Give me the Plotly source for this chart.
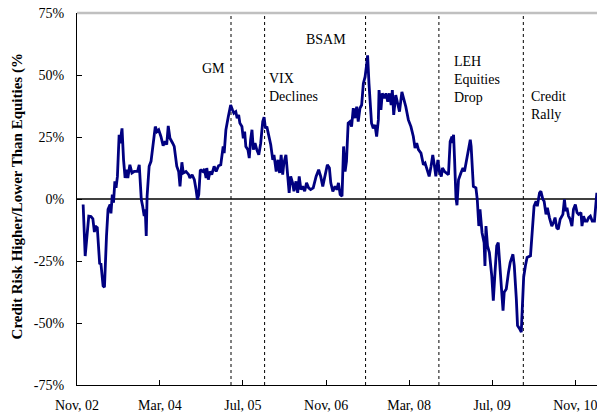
import plotly.graph_objects as go

dates = [
    "2002-12-07", "2002-12-19", "2003-01-09", "2003-01-22", "2003-02-02", "2003-02-11", "2003-02-16", "2003-02-28",
    "2003-03-14", "2003-03-21", "2003-04-03", "2003-04-11", "2003-04-23", "2003-05-02", "2003-05-14", "2003-05-19",
    "2003-05-27", "2003-06-03", "2003-06-11", "2003-06-18", "2003-06-26", "2003-07-06", "2003-07-11", "2003-07-23",
    "2003-08-01", "2003-08-10", "2003-08-18", "2003-08-26", "2003-09-07", "2003-09-19", "2003-10-02", "2003-10-22",
    "2003-11-01", "2003-11-13", "2003-11-21", "2003-11-30", "2003-12-06", "2003-12-12", "2003-12-17", "2003-12-29",
    "2004-01-09", "2004-01-22", "2004-02-03", "2004-02-13", "2004-02-23", "2004-03-07", "2004-03-20", "2004-04-01",
    "2004-04-10", "2004-04-19", "2004-04-29", "2004-05-15", "2004-05-24", "2004-06-08", "2004-06-19", "2004-06-27",
    "2004-07-08", "2004-07-16", "2004-08-01", "2004-08-17", "2004-08-24", "2004-09-06", "2004-09-19", "2004-09-29",
    "2004-10-07", "2004-10-15", "2004-10-24", "2004-11-08", "2004-11-17", "2004-11-27",
    "2004-12-01", "2004-12-10", "2004-12-20", "2004-12-30", "2005-01-13", "2005-01-25", "2005-02-08", "2005-02-21",
    "2005-02-28", "2005-03-07", "2005-03-13", "2005-03-23", "2005-04-06", "2005-04-20", "2005-05-01", "2005-05-09",
    "2005-05-20", "2005-05-28", "2005-06-06", "2005-06-13", "2005-06-25", "2005-07-03", "2005-07-11", "2005-07-18",
    "2005-07-30", "2005-08-07", "2005-08-15", "2005-08-23", "2005-08-31", "2005-09-10", "2005-09-20", "2005-10-02",
    "2005-10-13", "2005-10-25", "2005-11-02", "2005-11-10", "2005-11-18", "2005-11-29", "2005-12-11", "2005-12-23",
    "2005-12-30", "2006-01-12", "2006-01-22", "2006-02-01", "2006-02-10", "2006-02-19", "2006-02-26", "2006-03-10",
    "2006-03-17", "2006-03-29", "2006-04-07", "2006-04-18", "2006-04-26", "2006-05-08", "2006-05-18", "2006-05-27",
    "2006-06-06", "2006-06-16", "2006-06-28", "2006-07-09", "2006-07-21", "2006-08-02", "2006-08-17", "2006-09-03",
    "2006-09-18", "2006-09-30", "2006-10-12", "2006-10-23", "2006-11-08", "2006-11-20", "2006-11-28", "2006-12-10",
    "2006-12-23", "2007-01-03", "2007-01-12", "2007-01-22", "2007-02-02", "2007-02-11", "2007-02-20", "2007-02-28",
    "2007-03-10", "2007-03-20", "2007-03-30", "2007-04-09", "2007-04-19", "2007-04-29", "2007-05-08", "2007-05-18",
    "2007-05-28", "2007-06-07", "2007-06-17", "2007-06-27", "2007-07-02", "2007-07-10", "2007-07-17", "2007-07-25",
    "2007-08-04", "2007-08-14", "2007-08-24", "2007-09-03", "2007-09-07", "2007-09-18", "2007-09-26", "2007-10-08",
    "2007-10-18", "2007-10-28", "2007-11-07", "2007-11-17", "2007-11-24", "2007-12-02", "2007-12-14", "2007-12-26",
    "2008-01-05", "2008-01-19", "2008-01-30", "2008-02-11", "2008-02-26", "2008-03-12", "2008-03-26", "2008-04-05",
    "2008-04-15", "2008-04-25", "2008-05-10", "2008-05-24", "2008-06-03", "2008-06-13", "2008-06-27", "2008-07-08",
    "2008-07-18", "2008-07-27", "2008-08-05", "2008-08-17", "2008-08-26", "2008-09-06", "2008-09-13", "2008-09-25",
    "2008-10-09", "2008-10-18", "2008-10-28", "2008-11-08", "2008-11-11", "2008-11-17", "2008-11-23", "2008-12-01",
    "2008-12-07", "2008-12-16", "2008-12-30", "2009-01-11", "2009-01-20", "2009-02-13", "2009-02-23", "2009-02-28",
    "2009-03-13", "2009-03-28", "2009-04-05", "2009-04-14", "2009-04-21", "2009-05-03", "2009-05-15", "2009-05-20",
    "2009-05-26", "2009-06-04", "2009-06-15", "2009-06-29", "2009-07-08", "2009-07-18", "2009-07-28", "2009-08-06",
    "2009-08-13", "2009-08-23", "2009-09-03", "2009-09-10", "2009-09-22", "2009-10-05", "2009-10-15", "2009-10-31",
    "2009-11-08", "2009-11-20", "2009-11-27", "2009-12-09", "2009-12-19", "2009-12-24", "2010-01-02", "2010-01-12",
    "2010-01-22", "2010-02-11", "2010-02-22", "2010-03-04", "2010-03-16", "2010-03-23", "2010-04-05", "2010-04-13",
    "2010-04-25", "2010-05-02", "2010-05-13", "2010-05-21", "2010-06-02", "2010-06-16", "2010-06-26", "2010-07-05",
    "2010-07-15", "2010-07-24", "2010-08-04", "2010-08-20", "2010-08-29", "2010-09-05", "2010-09-13", "2010-09-22",
    "2010-10-02", "2010-10-12", "2010-10-21", "2010-11-01", "2010-11-11", "2010-11-20", "2010-12-04", "2010-12-10",
    "2010-12-19", "2010-12-29", "2011-01-09", "2011-01-18", "2011-01-28", "2011-02-08", "2011-02-21", "2011-02-28",
    "2011-03-07",
]

values = [
    -2.2, -23.0, -6.9, -7.1, -8.0, -13.3, -10.9, -11.6,
    -26.3, -25.9, -35.0, -35.6, -14.9, -4.2, -2.2, -5.8,
    1.8, -1.5, 7.1, 4.5, 9.1, 25.9, 22.5, 28.5,
    15.8, 8.5, 11.8, 8.5, 13.8, 10.5, 11.1, 11.1,
    13.8, -0.2, -2.9, -6.9, -4.2, -14.9, 1.1, 13.2,
    15.2, 23.9, 29.2, 27.2, 27.9, 25.2, 21.5, 23.2,
    21.9, 29.5, 24.5, 22.5, 21.2, 13.2, 11.1, 5.1,
    14.8, 10.5, 11.1, 9.8, 8.5, 9.8, 7.8, 3.8,
    -0.2, 1.8, 11.8, 11.1, 12.1, 8.5,
    12.5, 7.8, 11.1, 9.8, 13.2, 11.1, 13.4, 13.8,
    17.8, 21.2, 18.5, 27.9, 33.2, 37.9, 35.9, 34.6,
    35.2, 32.6, 33.9, 30.6, 29.2, 24.5, 27.2, 21.2,
    19.9, 16.5, 23.9, 27.9, 19.9, 22.5, 19.9, 17.8,
    22.5, 31.2, 33.0, 28.5, 29.2, 25.2, 21.9, 15.8,
    17.8, 11.1, 15.8, 10.5, 17.8, 9.8, 14.5, 17.8,
    10.5, 2.5, 9.1, 6.5, 3.1, 7.1, 2.5, 9.1,
    3.8, 5.1, 3.1, 6.5, 4.5, 3.8, 4.5, 9.1,
    11.8, 9.1, 5.1, 8.5, 13.8, 12.5, 6.5, 3.1,
    5.1, 3.8, 6.5, 1.8, 1.1, 21.2, 11.1, 15.2,
    30.6, 31.2, 29.2, 36.6, 32.6, 37.2, 31.2, 36.6,
    37.9, 46.6, 49.2, 54.6, 57.9, 46.6, 39.9, 30.6,
    28.5, 29.9, 25.2, 31.9, 43.9, 35.9, 42.6, 40.6,
    42.6, 39.2, 42.6, 37.9, 43.9, 33.9, 41.9, 38.6,
    35.2, 43.2, 40.6, 37.2, 31.9, 29.2, 25.2, 20.5,
    22.5, 19.9, 18.5, 13.8, 14.5, 11.8, 9.1, 13.2,
    17.8, 13.8, 9.1, 15.8, 11.1, 9.1, 12.5, 11.1,
    10.5, 9.8, 23.2, 25.2, 22.5, 25.9, 15.8, 0.5,
    -2.5, 7.8, 10.5, 12.5, 11.1, 20.5, 23.9, 21.2,
    5.1, 4.5, -0.2, -10.9, -4.2, -13.6, -17.6, -27.0,
    -10.9, -18.9, -21.6, -31.0, -41.0, -29.6, -18.9, -17.6,
    -24.3, -37.6, -45.0, -37.6, -36.3, -29.6, -25.6, -22.3,
    -27.0, -40.3, -51.0, -52.3, -53.7, -45.6, -31.6, -27.0,
    -23.6, -22.9, -13.6, -2.9, -0.9, -2.9, 2.5, 3.1,
    -0.2, -0.9, -6.2, -3.5, -7.5, -10.9, -9.5, -7.5,
    -11.6, -12.2, -8.2, -6.2, -0.2, -4.9, -3.5, -6.9,
    -8.2, -10.9, -4.2, -2.2, -5.5, -6.2, -5.5, -10.9,
    -6.9, -8.9, -8.9, -7.5, -6.9, -8.9, -8.9, -4.2,
    2.5,
]

event_dates = ["2005-04-22", "2005-11-05", "2007-06-20", "2008-08-23", "2009-12-31"]
event_labels = ["GM", "VIX<br>Declines", "BSAM", "LEH<br>Equities<br>Drop", "Credit<br>Rally"]

x_tickvals = ["2002-11-01", "2004-03-01", "2005-07-01", "2006-11-01", "2008-03-01", "2009-07-01", "2010-11-01"]
x_ticktext = ["Nov, 02", "Mar, 04", "Jul, 05", "Nov, 06", "Mar, 08", "Jul, 09", "Nov, 10"]
y_tickvals = [-75, -50, -25, 0, 25, 50, 75]
y_ticktext = ["-75%", "-50%", "-25%", "0%", "25%", "50%", "75%"]

FONT = "Liberation Serif"

fig = go.Figure()
fig.add_trace(go.Scatter(
    x=dates, y=values, mode="lines",
    line=dict(color="#000080", width=2.8),
    showlegend=False, hoverinfo="skip",
))

shapes = []
shapes.append(dict(type="line", xref="paper", yref="paper", x0=0, x1=1, y0=1, y1=1,
                   line=dict(color="#c0c0c0", width=2.5)))
shapes.append(dict(type="line", xref="paper", yref="y", x0=0, x1=1, y0=0, y1=0,
                   line=dict(color="black", width=1.3), layer="below"))
for d in event_dates:
    shapes.append(dict(type="line", xref="x", yref="paper", x0=d, x1=d, y0=0, y1=1,
                       line=dict(color="black", width=1, dash="dot"), layer="below"))

ann_pos = [(0.2365, 0.851), (0.365, 0.799), (0.4365, 0.929), (0.721, 0.8206), (0.869, 0.752)]
annotations = []
for (ax_, ay_), txt in zip(ann_pos, event_labels):
    annotations.append(dict(xref="paper", yref="paper", x=ax_, y=ay_, text=txt, showarrow=False,
                            xanchor="left", yanchor="middle", align="left",
                            font=dict(family=FONT, size=14, color="black")))
annotations.append(dict(xref="paper", yref="paper", x=0, xshift=-60, y=0.507,
                        text="<b>Credit Risk Higher/Lower Than Equities (%</b>", showarrow=False,
                        textangle=-90, xanchor="center", yanchor="middle",
                        font=dict(family=FONT, size=15, color="black")))

fig.update_layout(
    width=597, height=416,
    margin=dict(l=77, r=0, t=13, b=31, autoexpand=False),
    paper_bgcolor="white", plot_bgcolor="white",
    shapes=shapes, annotations=annotations,
    font=dict(family=FONT, size=14, color="black"),
    xaxis=dict(
        type="date", range=["2002-11-01", "2011-03-08"],
        tickvals=x_tickvals, ticktext=x_ticktext,
        ticks="inside", ticklen=5, tickcolor="black",
        showline=True, linecolor="black", linewidth=1.2,
        showgrid=False, zeroline=False, ticklabelstandoff=7,
        ticklabeloverflow="allow",
        tickfont=dict(family=FONT, size=14, color="black"),
    ),
    yaxis=dict(
        range=[-75, 75], tickvals=y_tickvals, ticktext=y_ticktext,
        ticks="inside", ticklen=5, tickcolor="black",
        showline=True, linecolor="black", linewidth=1.2,
        showgrid=False, zeroline=False, ticklabelstandoff=9,
        tickfont=dict(family=FONT, size=14, color="black"),
    ),
)

fig.write_html("out.html", config={"displayModeBar": False},
               post_script="document.body.style.margin='0';document.body.style.overflow='hidden';")
